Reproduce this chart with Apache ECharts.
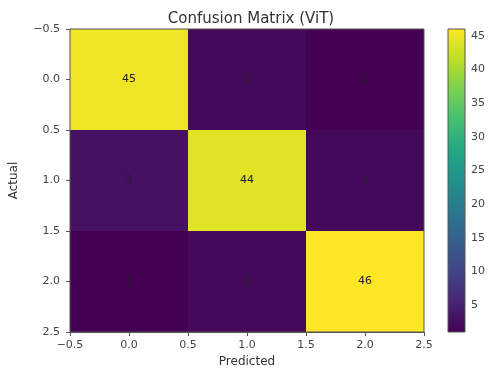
<!DOCTYPE html>
<html>
<head>
<meta charset="utf-8">
<script src="https://cdn.jsdelivr.net/npm/echarts@6/dist/echarts.min.js"></script>
<style>html,body{margin:0;padding:0;background:#fff}#c{width:491px;height:368px}</style>
</head>
<body>
<div id="c"></div>
<script>
const title = 'Confusion Matrix (ViT)';
const classes = [0, 1, 2];
const matrix = [
  [45, 2, 1],
  [3, 44, 2],
  [1, 2, 46]
];
const axisTicks = [-0.5, 0.0, 0.5, 1.0, 1.5, 2.0, 2.5];
const colorbarTicks = [5, 10, 15, 20, 25, 30, 35, 40, 45];
const vmin = 1, vmax = 46;
const viridis = ['#440154','#482475','#414487','#355f8d','#2a788e','#21918c','#22a884','#44bf70','#7ad151','#bddf26','#fde725'];

const cells = [];
matrix.forEach((row, r) => row.forEach((v, c) => cells.push([classes[c], classes[r], v])));

const fmt = v => v.toFixed(1).replace('-', '\u2212');
const FONT = 'DejaVu Sans';
const tickColor = '#444';

const chart = echarts.init(document.getElementById('c'), null, {renderer: 'canvas'});
chart.setOption({
  animation: false,
  backgroundColor: '#fff',
  title: {
    text: title, left: 246, top: 7, textAlign: 'center',
    textStyle: {fontFamily: FONT, fontSize: 15, fontWeight: 'normal', color: '#333'}
  },
  grid: [
    {left: 70, top: 29, width: 354, height: 303, show: false, outerBoundsMode: 'none', containLabel: false},
    {left: 448, top: 29, width: 17, height: 303, show: false, outerBoundsMode: 'none', containLabel: false}
  ],
  visualMap: {
    show: false, type: 'continuous', min: vmin, max: vmax, seriesIndex: 0, dimension: 2,
    inRange: {color: viridis}
  },
  xAxis: [
    {
      type: 'value', gridIndex: 0, min: -0.5, max: 2.5, interval: 0.5,
      name: 'Predicted', nameLocation: 'middle', nameGap: 22,
      nameTextStyle: {fontFamily: FONT, fontSize: 12, color: '#333'},
      axisLine: {show: true, onZero: false, lineStyle: {color: '#555', width: 1}},
      axisTick: {show: true, length: 4, lineStyle: {color: '#555'}},
      axisLabel: {formatter: fmt, fontFamily: FONT, fontSize: 11, color: tickColor, margin: 8},
      splitLine: {show: false}
    },
    {
      type: 'value', gridIndex: 1, min: 0, max: 1, show: false
    }
  ],
  yAxis: [
    {
      type: 'value', gridIndex: 0, min: -0.5, max: 2.5, interval: 0.5, inverse: true,
      name: 'Actual', nameLocation: 'middle', nameGap: 50, nameRotate: 90,
      nameTextStyle: {fontFamily: FONT, fontSize: 12, color: '#333'},
      axisLine: {show: true, onZero: false, lineStyle: {color: '#555', width: 1}},
      axisTick: {show: true, length: 4, lineStyle: {color: '#555'}},
      axisLabel: {formatter: fmt, fontFamily: FONT, fontSize: 11, color: tickColor, margin: 10},
      splitLine: {show: false}
    },
    {
      type: 'value', gridIndex: 1, min: vmin, max: vmax, position: 'right',
      axisLine: {show: false},
      axisTick: {show: true, length: 4, customValues: colorbarTicks, lineStyle: {color: '#555'}},
      axisLabel: {customValues: colorbarTicks, fontFamily: FONT, fontSize: 11, color: tickColor, margin: 6},
      splitLine: {show: false}
    }
  ],
  series: [
    {
      type: 'custom', xAxisIndex: 0, yAxisIndex: 0, data: cells,
      encode: {x: 0, y: 1},
      renderItem: function (params, api) {
        const x = api.value(0), y = api.value(1), v = api.value(2);
        const p1 = api.coord([x - 0.5, y - 0.5]);
        const p2 = api.coord([x + 0.5, y + 0.5]);
        const c = api.coord([x, y]);
        return {
          type: 'group',
          children: [
            {type: 'rect', shape: {x: Math.min(p1[0], p2[0]), y: Math.min(p1[1], p2[1]), width: Math.abs(p2[0] - p1[0]), height: Math.abs(p2[1] - p1[1])},
             style: {fill: api.visual('color')}},
            {type: 'text', x: c[0], y: c[1],
             style: {text: String(v), fill: '#222', font: '11px "DejaVu Sans"', align: 'center', verticalAlign: 'middle'}}
          ]
        };
      },
      z: 2
    },
    {
      type: 'custom', xAxisIndex: 0, yAxisIndex: 0, data: [[0]],
      renderItem: function (params, api) {
        const a = api.coord([-0.5, -0.5]);
        const b = api.coord([2.5, 2.5]);
        return {type: 'rect', shape: {x: a[0], y: a[1], width: b[0] - a[0], height: b[1] - a[1]},
          style: {fill: 'none', stroke: '#555', lineWidth: 1}, z2: 10};
      },
      z: 3, silent: true
    },
    {
      type: 'custom', xAxisIndex: 1, yAxisIndex: 1, data: [[0]],
      renderItem: function (params, api) {
        const a = api.coord([0, vmax]);
        const b = api.coord([1, vmin]);
        const stops = viridis.map((col, i) => ({offset: 1 - i / (viridis.length - 1), color: col}));
        return {type: 'rect', shape: {x: a[0], y: a[1], width: b[0] - a[0], height: b[1] - a[1]},
          style: {fill: new echarts.graphic.LinearGradient(0, 0, 0, 1, stops.reverse()), stroke: '#555', lineWidth: 1}};
      },
      z: 2, silent: true
    }
  ]
});
</script>
</body>
</html>
